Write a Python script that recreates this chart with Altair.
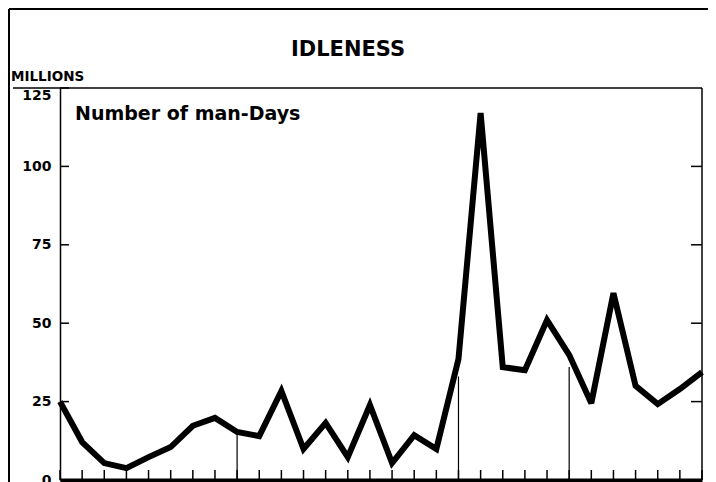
import altair as alt
import pandas as pd

years = list(range(1927, 1957))
idleness = [25.0, 12.1, 5.4, 3.8, 7.3, 10.5, 17.3, 19.8, 15.3, 14.0,
            28.4, 9.9, 18.2, 7.3, 23.9, 5.4, 14.3, 9.9, 38.6, 117.0,
            36.0, 35.0, 51.0, 39.9, 24.5, 59.6, 30.0, 24.2, 29.0, 34.4]

y_ticks = [0, 25, 50, 75, 100, 125]
right_ticks = [25, 50, 75, 100]
marker_years = [1935, 1945, 1950]
marker_tops = [15.0, 33.0, 36.0]

title_text = "IDLENESS"
unit_text = "MILLIONS"
series_text = "Number of man-Days"

W, H = 642, 392
FONT = "DejaVu Sans"

df = pd.DataFrame({"year": years, "value": idleness})
ticks_df = pd.DataFrame({"v": y_ticks})
rticks_df = pd.DataFrame({"v": right_ticks})
markers_df = pd.DataFrame({"year": marker_years, "top": marker_tops})
one = pd.DataFrame({"a": [0]})

xscale = alt.Scale(domain=[1927, 1956], nice=False, zero=False)
yscale = alt.Scale(domain=[0, 125], nice=False)

xaxis = alt.Axis(title=None, labels=False, ticks=False, grid=False,
                 domainColor="black", domainWidth=4)
yaxis = alt.Axis(title=None, values=y_ticks, ticks=False, grid=False,
                 domainColor="black", domainWidth=1.5, labelPadding=9,
                 labelFont=FONT, labelFontSize=14, labelFontWeight="bold",
                 labelColor="black",
                 labelOffset={"condition": {"test": "datum.value == 125", "value": 7},
                              "value": 0})

line = alt.Chart(df).mark_line(
    color="black", strokeWidth=6, strokeJoin="miter", strokeMiterLimit=3, clip=False
).encode(
    x=alt.X("year:Q", scale=xscale, axis=xaxis),
    y=alt.Y("value:Q", scale=yscale, axis=yaxis),
)

year_ticks = alt.Chart(df).mark_rule(color="black", strokeWidth=1.5).encode(
    x=alt.X("year:Q", scale=xscale, axis=xaxis),
    y=alt.value(H), y2=alt.value(H - 10),
)

markers = alt.Chart(markers_df).mark_rule(color="black", strokeWidth=1.2).encode(
    x=alt.X("year:Q", scale=xscale, axis=xaxis),
    y=alt.Y("top:Q", scale=yscale, axis=yaxis),
    y2=alt.datum(0),
)

left_ticks = alt.Chart(ticks_df).mark_rule(color="black", strokeWidth=1.5).encode(
    y=alt.Y("v:Q", scale=yscale, axis=yaxis),
    x=alt.value(0), x2=alt.value(9),
)

right_tick_marks = alt.Chart(rticks_df).mark_rule(color="black", strokeWidth=1.5).encode(
    y=alt.Y("v:Q", scale=yscale, axis=yaxis),
    x=alt.value(W - 11), x2=alt.value(W),
)

right_border = alt.Chart(one).mark_rule(color="black", strokeWidth=1.5).encode(
    x=alt.value(W), y=alt.value(0), y2=alt.value(H)
)
top_border = alt.Chart(one).mark_rule(color="black", strokeWidth=1.5).encode(
    x=alt.value(-47), x2=alt.value(W), y=alt.value(0)
)
frame_left = alt.Chart(one).mark_rule(color="black", strokeWidth=2).encode(
    x=alt.value(-51), y=alt.value(-79), y2=alt.value(H + 5)
)
frame_top = alt.Chart(one).mark_rule(color="black", strokeWidth=2).encode(
    x=alt.value(-51), x2=alt.value(W + 20), y=alt.value(-79)
)

title = alt.Chart(one).mark_text(
    text=title_text, font=FONT, fontSize=21, fontWeight="bold", color="black",
    align="center", baseline="alphabetic"
).encode(x=alt.value(288), y=alt.value(-32))

unit = alt.Chart(one).mark_text(
    text=unit_text, font=FONT, fontSize=13.5, fontWeight="bold", color="black",
    align="left", baseline="alphabetic"
).encode(x=alt.value(-49), y=alt.value(-7))

series_label = alt.Chart(one).mark_text(
    text=series_text, font=FONT, fontSize=19, fontWeight="bold", color="black",
    align="left", baseline="alphabetic"
).encode(x=alt.value(15), y=alt.value(32))

chart = alt.layer(
    line, markers, year_ticks, left_ticks, right_tick_marks, right_border, top_border,
    frame_left, frame_top, title, unit, series_label
).properties(
    width=W, height=H,
    autosize=alt.AutoSizeParams(type="none"),
    padding={"left": 52, "top": 80, "right": 6, "bottom": 2},
    background="white",
).configure_view(stroke=None)

chart.save("out.html", embed_options={"renderer": "svg", "actions": False})
